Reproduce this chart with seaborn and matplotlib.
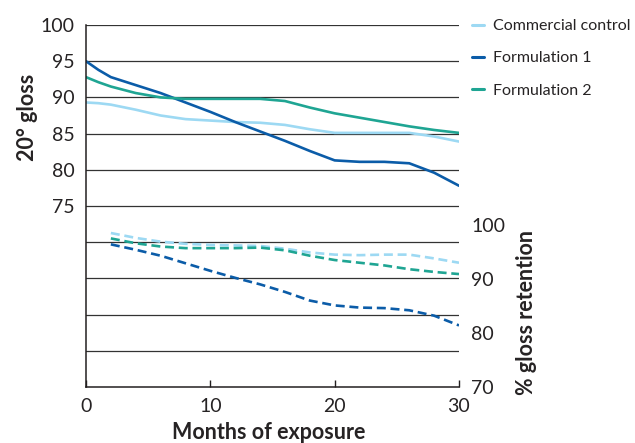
import pandas as pd
import numpy as np
import matplotlib
matplotlib.use("Agg")
import matplotlib.pyplot as plt
import seaborn as sns

# Values
samples = ["Commercial control", "Formulation 1", "Formulation 2"]
colors = ["#9dd9f3", "#0b5ca8", "#1fa593"]

gloss_months = [0, 1, 2, 4, 6, 8, 10, 12, 14, 16, 18, 20, 22, 24, 26, 28, 30]
gloss_control = [89.3, 89.2, 89.0, 88.3, 87.5, 87.0, 86.8, 86.6, 86.5, 86.2,
                 85.6, 85.1, 85.1, 85.1, 85.1, 84.6, 83.9]
gloss_f1 = [95.0, 93.8, 92.8, 91.7, 90.6, 89.3, 88.0, 86.6, 85.3, 84.0,
            82.6, 81.3, 81.1, 81.1, 80.9, 79.6, 77.8]
gloss_f2 = [92.8, 92.1, 91.5, 90.6, 90.0, 89.8, 89.8, 89.8, 89.8, 89.5,
            88.6, 87.8, 87.2, 86.6, 86.0, 85.5, 85.1]

ret_months = [2, 4, 6, 8, 10, 12, 14, 16, 18, 20, 22, 24, 26, 28, 30]
ret_control = [98.5, 97.6, 96.9, 96.5, 96.3, 96.2, 96.1, 95.6, 94.9, 94.5,
               94.4, 94.5, 94.5, 93.8, 93.0]
ret_f1 = [96.4, 95.4, 94.3, 92.9, 91.5, 90.2, 89.0, 87.6, 86.0, 85.1,
          84.7, 84.6, 84.2, 83.2, 81.4]
ret_f2 = [97.5, 96.6, 96.0, 95.7, 95.7, 95.7, 95.8, 95.3, 94.3, 93.5,
          93.0, 92.5, 91.8, 91.3, 90.9]

left_ticks = [75, 80, 85, 90, 95, 100]
right_ticks = [70, 80, 90, 100]
x_ticks = [0, 10, 20, 30]


def long_frame(months, series, value_name):
    frames = []
    for name, vals in zip(samples, series):
        frames.append(pd.DataFrame({"Month": months, value_name: vals, "Sample": name}))
    return pd.concat(frames, ignore_index=True)


gloss_df = long_frame(gloss_months, [gloss_control, gloss_f1, gloss_f2], "Gloss")
ret_df = long_frame(ret_months, [ret_control, ret_f1, ret_f2], "Retention")

sns.set_theme(style="white")
plt.rcParams["font.family"] = ["Lato", "DejaVu Sans"]
text_color = "#262324"

fig = plt.figure(figsize=(6.35, 4.43), dpi=100)
ax = fig.add_axes([86 / 635, 56 / 443, 373 / 635, 362 / 443])
palette = dict(zip(samples, colors))

sns.lineplot(data=gloss_df, x="Month", y="Gloss", hue="Sample", palette=palette,
             hue_order=samples, linewidth=1.9, ax=ax)

ax2 = ax.twinx()
sns.lineplot(data=ret_df, x="Month", y="Retention", hue="Sample", palette=palette,
             hue_order=samples, linewidth=1.9, legend=False, ax=ax2)
for line in ax2.get_lines():
    line.set_dashes((3.4, 1.8))

# axes ranges
ax.set_xlim(0, 30)
ax.set_ylim(50, 100)
ax2.set_ylim(70, 137)

# horizontal rules every 5 gloss units
for y in np.arange(55, 101, 5):
    ax.axhline(y, color="#333333", linewidth=0.9, zorder=0)

ax.set_yticks(left_ticks)
ax.set_xticks(x_ticks)
ax2.set_yticks(right_ticks)

ax.tick_params(axis="y", length=0, pad=8, labelsize=14, labelcolor=text_color)
ax.tick_params(axis="x", direction="in", length=5, width=1, color="#231f20",
               pad=8, labelsize=14, labelcolor=text_color, bottom=True)
ax2.tick_params(axis="y", length=0, pad=9, labelsize=14, labelcolor=text_color)

for a in (ax, ax2):
    a.spines["top"].set_visible(False)
    a.spines["right"].set_visible(False)
ax2.spines["left"].set_visible(False)
ax2.spines["bottom"].set_visible(False)
ax.spines["left"].set_color("#231f20")
ax.spines["bottom"].set_color("#231f20")
ax.spines["left"].set_linewidth(1.1)
ax.spines["bottom"].set_linewidth(1.1)

label_font = dict(fontsize=15.5, fontweight="bold", color=text_color)
ax.set_xlabel("Months of exposure", **label_font)
ax.set_ylabel("20° gloss", **label_font)
ax2.set_ylabel("% gloss retention", **label_font)
ax.xaxis.set_label_coords(0.49, -0.098)
ax.yaxis.set_label_coords(-0.128, 0.745)
ax2.yaxis.set_label_coords(1.153, 0.205)

handles, labels = ax.get_legend_handles_labels()
leg = ax.legend(handles, labels, loc="upper left", bbox_to_anchor=(1.035, 1.016),
                frameon=False, fontsize=11.5, handlelength=0.75, handletextpad=0.55,
                labelspacing=1.12, borderpad=0, borderaxespad=0)
for t in leg.get_texts():
    t.set_color(text_color)
for h in leg.get_lines():
    h.set_linewidth(2.2)

fig.savefig("out.png", dpi=100)
